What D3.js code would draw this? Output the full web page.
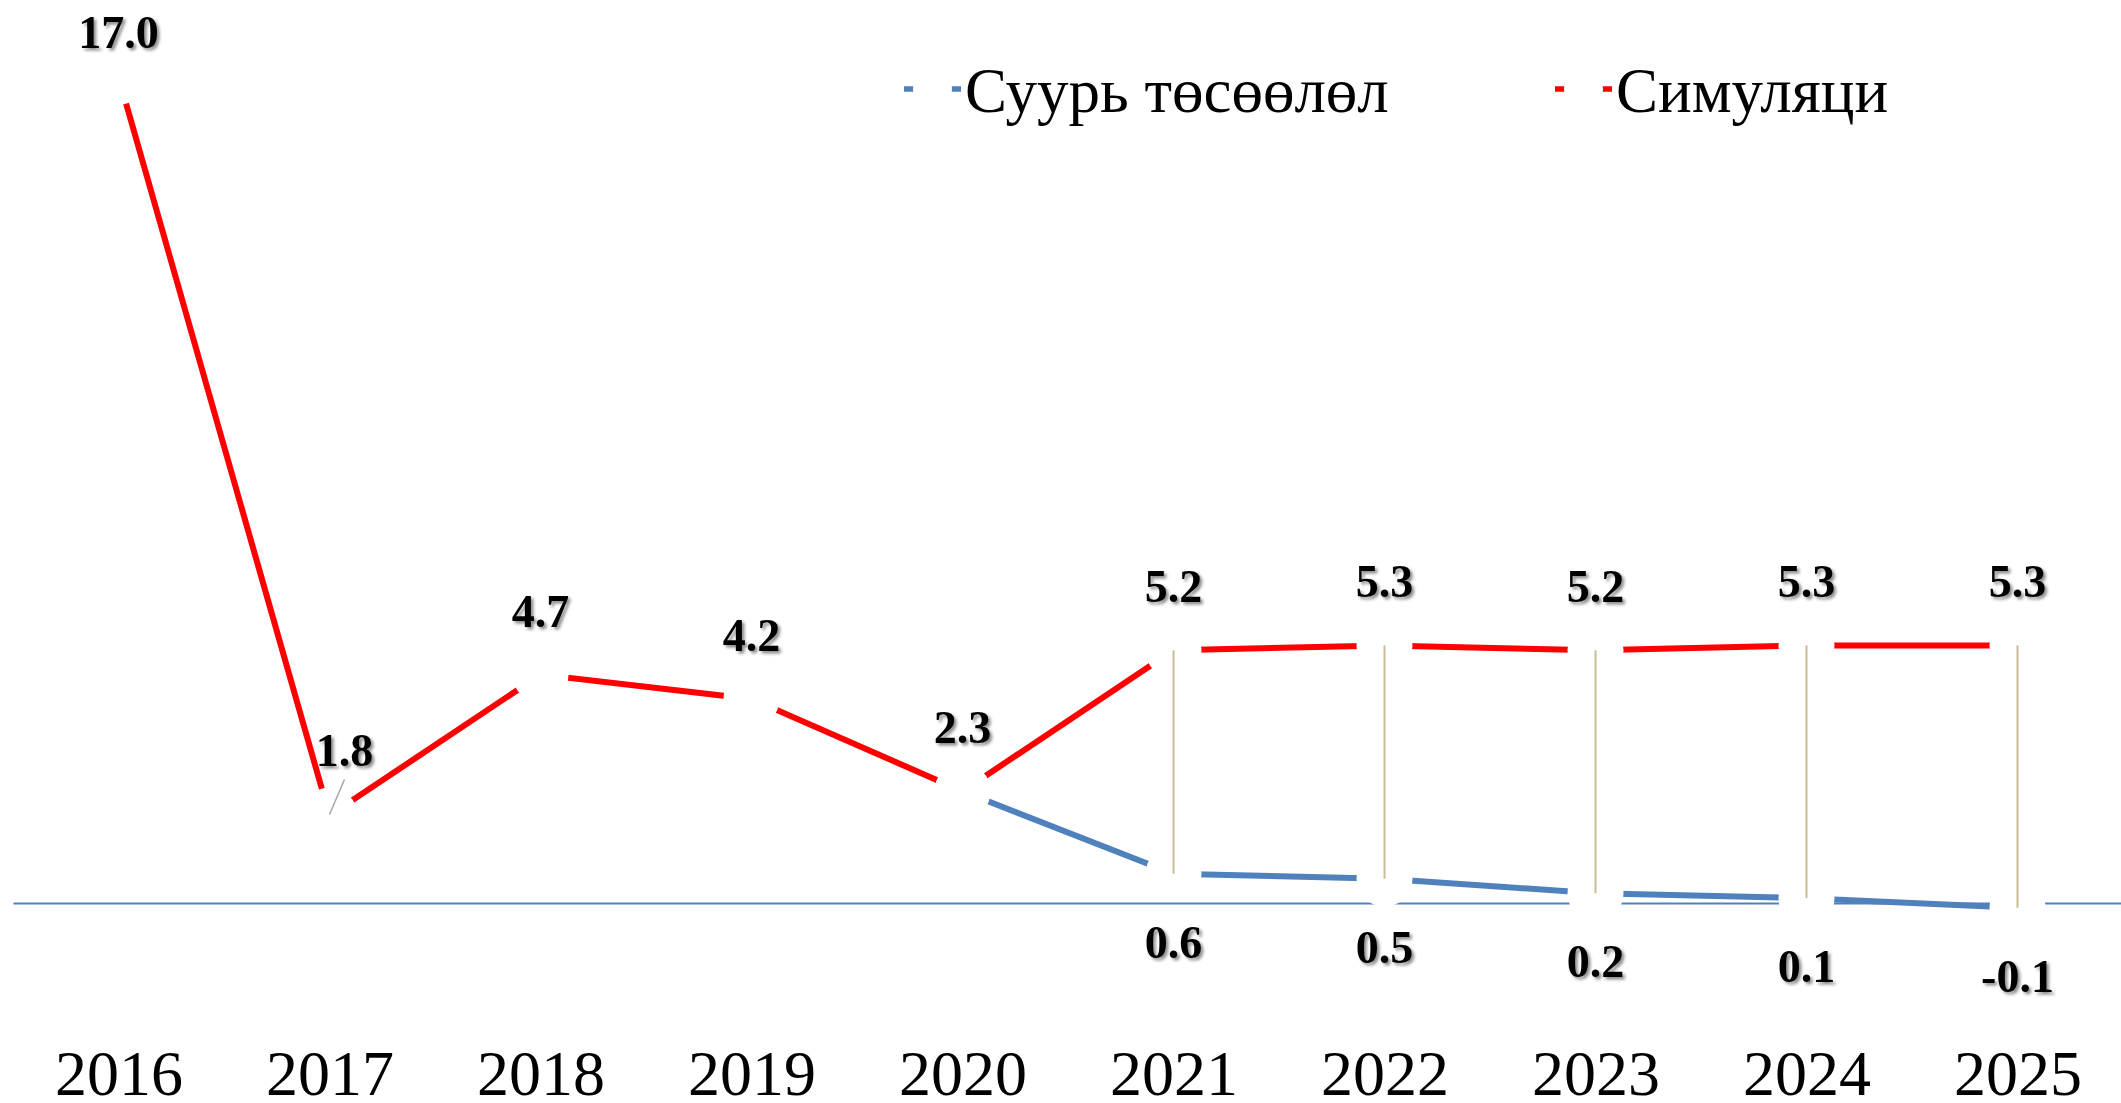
<!DOCTYPE html>
<html lang="mn">
    <head>
        <meta charset="utf-8">
        <title>Суурь төсөөлөл ба симуляци</title>
        <script type="text/javascript" src="https://cdn.jsdelivr.net/npm/d3@7/dist/d3.min.js"></script>
        <style type="text/css">
            body { margin: 0; background: #fff; }
            svg { display: block; }
        </style>
    </head>
    <body>
        <script type="text/javascript">

            //Width and height
            var w = 2121;
            var h = 1103;

            // data
            var years = ["2016", "2017", "2018", "2019", "2020", "2021", "2022", "2023", "2024", "2025"];
            var baseline = [null, null, null, null, 2.3, 0.6, 0.5, 0.2, 0.1, -0.1];
            var simulation = [17.0, 1.8, 4.7, 4.2, 2.3, 5.2, 5.3, 5.2, 5.3, 5.3];
            var seriesNames = ["Суурь төсөөлөл", "Симуляци"];
            var seriesColors = ["#4F81BD", "#FF0000"];

            var x = d3.scalePoint()
                      .domain(years)
                      .range([13, 2123])
                      .padding(0.5);

            var y = d3.scaleLinear()
                      .domain([0, 17])
                      .range([903, 77]);

            var serif = "'Liberation Serif', 'Times New Roman', 'DejaVu Serif', serif";

            var svg = d3.select("body")
                        .append("svg")
                        .attr("width", w)
                        .attr("height", h);

            // soft shadow for the data labels
            var filter = svg.append("defs")
                            .append("filter")
                            .attr("id", "shadow")
                            .attr("x", "-20%").attr("y", "-20%")
                            .attr("width", "140%").attr("height", "140%");
            filter.append("feDropShadow")
                  .attr("dx", 2.5)
                  .attr("dy", 2.5)
                  .attr("stdDeviation", 1.6)
                  .attr("flood-color", "#000")
                  .attr("flood-opacity", 0.45);

            // x axis along zero
            var xAxis = d3.axisBottom(x)
                          .tickSize(0)
                          .tickSizeOuter(0)
                          .tickPadding(147);

            var axisG = svg.append("g")
                           .attr("transform", "translate(0," + y(0) + ")")
                           .call(xAxis);
            axisG.select(".domain")
                 .attr("stroke", "#4F81BD")
                 .attr("stroke-width", 2);
            axisG.selectAll("text")
                 .attr("font-family", serif)
                 .attr("font-size", "64px")
                 .attr("fill", "#000");

            var series = [baseline, simulation].map(function(vals, i) {
                return {
                    name: seriesNames[i],
                    color: seriesColors[i],
                    points: years.map(function(yr, j) { return { year: yr, v: vals[j] }; })
                };
            });

            var line = d3.line()
                         .defined(function(d) { return d.v != null; })
                         .x(function(d) { return x(d.year); })
                         .y(function(d) { return y(d.v); });

            svg.selectAll("path.series")
               .data(series)
               .enter()
               .append("path")
               .attr("class", "series")
               .attr("d", function(d) { return line(d.points); })
               .attr("fill", "none")
               .attr("stroke", function(d) { return d.color; })
               .attr("stroke-width", 6);

            // white markers cut the lines around every point
            var allPoints = [];
            series.forEach(function(s) {
                s.points.forEach(function(p) { if (p.v != null) allPoints.push(p); });
            });

            svg.selectAll("circle.marker")
               .data(allPoints)
               .enter()
               .append("circle")
               .attr("class", "marker")
               .attr("cx", function(d) { return x(d.year); })
               .attr("cy", function(d) { return y(d.v); })
               .attr("r", 28)
               .attr("fill", "#fff");

            // high-low lines
            var hiLo = years.filter(function(yr, j) {
                return baseline[j] != null && baseline[j] !== simulation[j];
            });

            svg.selectAll("line.hilo")
               .data(hiLo)
               .enter()
               .append("line")
               .attr("class", "hilo")
               .attr("x1", function(d) { return x(d); })
               .attr("x2", function(d) { return x(d); })
               .attr("y1", function(d) { return y(simulation[years.indexOf(d)]); })
               .attr("y2", function(d) { return y(baseline[years.indexOf(d)]); })
               .attr("stroke", "#C9BC94")
               .attr("stroke-width", 2);

            // data labels
            svg.selectAll("text.red-label")
               .data(series[1].points)
               .enter()
               .append("text")
               .attr("class", "red-label")
               .attr("x", function(d) { return x(d.year) + (d.year === "2017" ? 15 : 0); })
               .attr("y", function(d) {
                   if (d.year === "2017") return y(d.v) - 50;
                   return Math.max(y(d.v) - 48, 48);
               })
               .attr("text-anchor", "middle")
               .attr("font-family", serif)
               .attr("font-weight", "bold")
               .attr("font-size", "46px")
               .attr("filter", "url(#shadow)")
               .text(function(d) { return d.v.toFixed(1); });

            // leader line for the moved 2017 label
            var p17 = series[1].points[1];
            svg.append("line")
               .attr("x1", x(p17.year))
               .attr("y1", y(p17.v) - 1)
               .attr("x2", x(p17.year) + 15)
               .attr("y2", y(p17.v) - 36)
               .attr("stroke", "#A6A6A6")
               .attr("stroke-width", 1.5);

            svg.selectAll("text.blue-label")
               .data(series[0].points.filter(function(d, j) {
                   return d.v != null && d.v !== simulation[j];
               }))
               .enter()
               .append("text")
               .attr("class", "blue-label")
               .attr("x", function(d) { return x(d.year); })
               .attr("y", function(d) { return y(d.v) + 84; })
               .attr("text-anchor", "middle")
               .attr("font-family", serif)
               .attr("font-weight", "bold")
               .attr("font-size", "46px")
               .attr("filter", "url(#shadow)")
               .text(function(d) { return d.v.toFixed(1); });

            // legend
            var legendX = [904, 1555];
            var legend = svg.selectAll("g.legend")
                            .data(series)
                            .enter()
                            .append("g")
                            .attr("class", "legend")
                            .attr("transform", function(d, i) { return "translate(" + legendX[i] + ",89)"; });

            legend.append("line")
                  .attr("x1", 0)
                  .attr("x2", 57)
                  .attr("stroke", function(d) { return d.color; })
                  .attr("stroke-width", 5.5);

            legend.append("circle")
                  .attr("cx", 28.5)
                  .attr("r", 19.5)
                  .attr("fill", "#fff");

            legend.append("text")
                  .attr("x", 61)
                  .attr("y", 23)
                  .attr("font-family", serif)
                  .attr("font-size", "63px")
                  .text(function(d) { return d.name; });

        </script>
    </body>
</html>
